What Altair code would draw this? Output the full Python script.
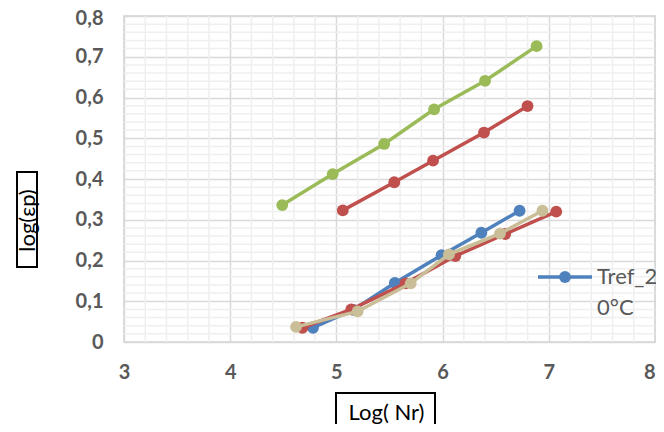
import altair as alt
import pandas as pd
import numpy as np

# ---- data ----
blue_x = [4.78, 5.16, 5.55, 5.99, 6.365, 6.725]
blue_y = [0.035, 0.079, 0.145, 0.213, 0.268, 0.322]

red_lo_x = [4.68, 5.14, 5.65, 6.12, 6.59, 7.07]
red_lo_y = [0.035, 0.080, 0.144, 0.211, 0.265, 0.320]

green_x = [4.49, 4.965, 5.45, 5.92, 6.40, 6.885]
green_y = [0.336, 0.412, 0.486, 0.571, 0.641, 0.726]

red_hi_x = [5.06, 5.545, 5.91, 6.39, 6.80]
red_hi_y = [0.323, 0.392, 0.445, 0.514, 0.579]

tan_x = [4.62, 5.20, 5.70, 6.06, 6.54, 6.94]
tan_y = [0.037, 0.075, 0.144, 0.215, 0.266, 0.322]

x_ticks = [3, 4, 5, 6, 7, 8]
y_ticks = [0, 0.1, 0.2, 0.3, 0.4, 0.5, 0.6, 0.7, 0.8]
legend_label = ["Tref_2", "0°C"]

series = [
    ("Tref_20°C", blue_x, blue_y, "#4F81BD"),
    ("s2", red_lo_x, red_lo_y, "#C0504D"),
    ("s3", green_x, green_y, "#9BBB59"),
    ("s4", red_hi_x, red_hi_y, "#C0504D"),
    ("s5", tan_x, tan_y, "#C9BE97"),
]

W, H = 531, 326
FONT = "Lato"
LABEL = "#595959"

xscale = alt.Scale(domain=[3, 8], nice=False, zero=False)
yscale = alt.Scale(domain=[0, 0.8], nice=False, zero=False)

xaxis = alt.Axis(values=x_ticks, grid=True, gridColor="#D9D9D9", gridWidth=1.5,
                 ticks=False, domain=False, labelFont=FONT, labelFontSize=20,
                 labelFontWeight="bold", labelColor=LABEL, labelPadding=20,
                 labelFlush=False,
                 labelAlign={"condition": {"test": "datum.value == 8", "value": "right"}, "value": "center"},
                 title="Log( Nr)", titleFont=FONT, titleFontSize=22,
                 titleFontWeight="normal", titleColor="#000000",
                 titleAnchor="start", titleAlign="center", titleX=262, titleY=70,
                 titleBaseline="middle")
yaxis = alt.Axis(values=y_ticks, grid=True, gridColor="#D9D9D9", gridWidth=1.5,
                 ticks=False, domain=False, labelFont=FONT, labelFontSize=20,
                 labelFontWeight="bold", labelColor=LABEL, labelPadding=21,
                 labelFlush=False,
                 labelOffset={"condition": {"test": "datum.value > 0.75", "value": 2}, "value": 0},
                 labelExpr="datum.value == 0 ? '0' : replace(format(datum.value, '.1f'), '.', ',')",
                 title="log(εp)", titleFont=FONT, titleFontSize=22,
                 titleFontWeight="normal", titleColor="#000000",
                 titleAnchor="start", titleAlign="center", titleAngle=270,
                 titleX=-97, titleY=204, titleBaseline="middle")

# minor grid
minor_x = [v for v in np.round(np.arange(3.0, 8.0001, 0.2), 2) if abs(v - round(v)) > 1e-6]
minor_y = [v for v in np.round(np.arange(0.0, 0.8001, 0.02), 3) if abs(v * 10 - round(v * 10)) > 1e-6]

vminor = alt.Chart(pd.DataFrame({"x": minor_x})).mark_rule(color="#EFEFEF", strokeWidth=1.5).encode(
    x=alt.X("x:Q", scale=xscale, axis=xaxis))
hminor = alt.Chart(pd.DataFrame({"y": minor_y})).mark_rule(color="#EFEFEF", strokeWidth=1.5).encode(
    y=alt.Y("y:Q", scale=yscale, axis=yaxis))

layers = [vminor, hminor]
for name, xs, ys, col in series:
    df = pd.DataFrame({"x": xs, "y": ys, "series": name})
    base = alt.Chart(df).encode(
        x=alt.X("x:Q", scale=xscale, axis=xaxis),
        y=alt.Y("y:Q", scale=yscale, axis=yaxis),
    )
    layers.append(base.mark_line(color=col, strokeWidth=3.5))
    layers.append(base.mark_point(color=col, filled=True, opacity=1, size=140, shape="circle"))

# axis title boxes
ybox = alt.Chart(pd.DataFrame({"a": [0]})).mark_rect(fill=None, stroke="#000000", strokeWidth=2).encode(
    x=alt.value(-107), x2=alt.value(-87), y=alt.value(156), y2=alt.value(251))
xbox = alt.Chart(pd.DataFrame({"a": [0]})).mark_rect(fill=None, stroke="#000000", strokeWidth=2).encode(
    x=alt.value(212), x2=alt.value(311), y=alt.value(377), y2=alt.value(411))

# legend (partially visible, as in the reference)
leg_line = alt.Chart(pd.DataFrame({"a": [0]})).mark_rule(color="#4F81BD", strokeWidth=3.5).encode(
    x=alt.value(414), x2=alt.value(468), y=alt.value(261))
leg_pt = alt.Chart(pd.DataFrame({"a": [0]})).mark_point(color="#4F81BD", filled=True, opacity=1, size=140).encode(
    x=alt.value(441), y=alt.value(261))
leg_txt = alt.Chart(pd.DataFrame({"t": legend_label, "dy": [261, 292]})).mark_text(
    align="left", baseline="middle", font=FONT, fontSize=22, color=LABEL).encode(
    x=alt.value(473), y=alt.Y("dy:Q", scale=None), text="t:N")

layers += [ybox, xbox, leg_line, leg_pt, leg_txt]

chart = alt.layer(*layers).properties(
    width=W, height=H,
    autosize=alt.AutoSizeParams(type="none"),
    padding={"left": 116, "top": 8, "right": 1, "bottom": 82},
    background="#FFFFFF",
).configure_view(stroke="#D0D0D0", strokeWidth=1.5)

chart.save("out.html", embed_options={"renderer": "svg", "actions": False})
